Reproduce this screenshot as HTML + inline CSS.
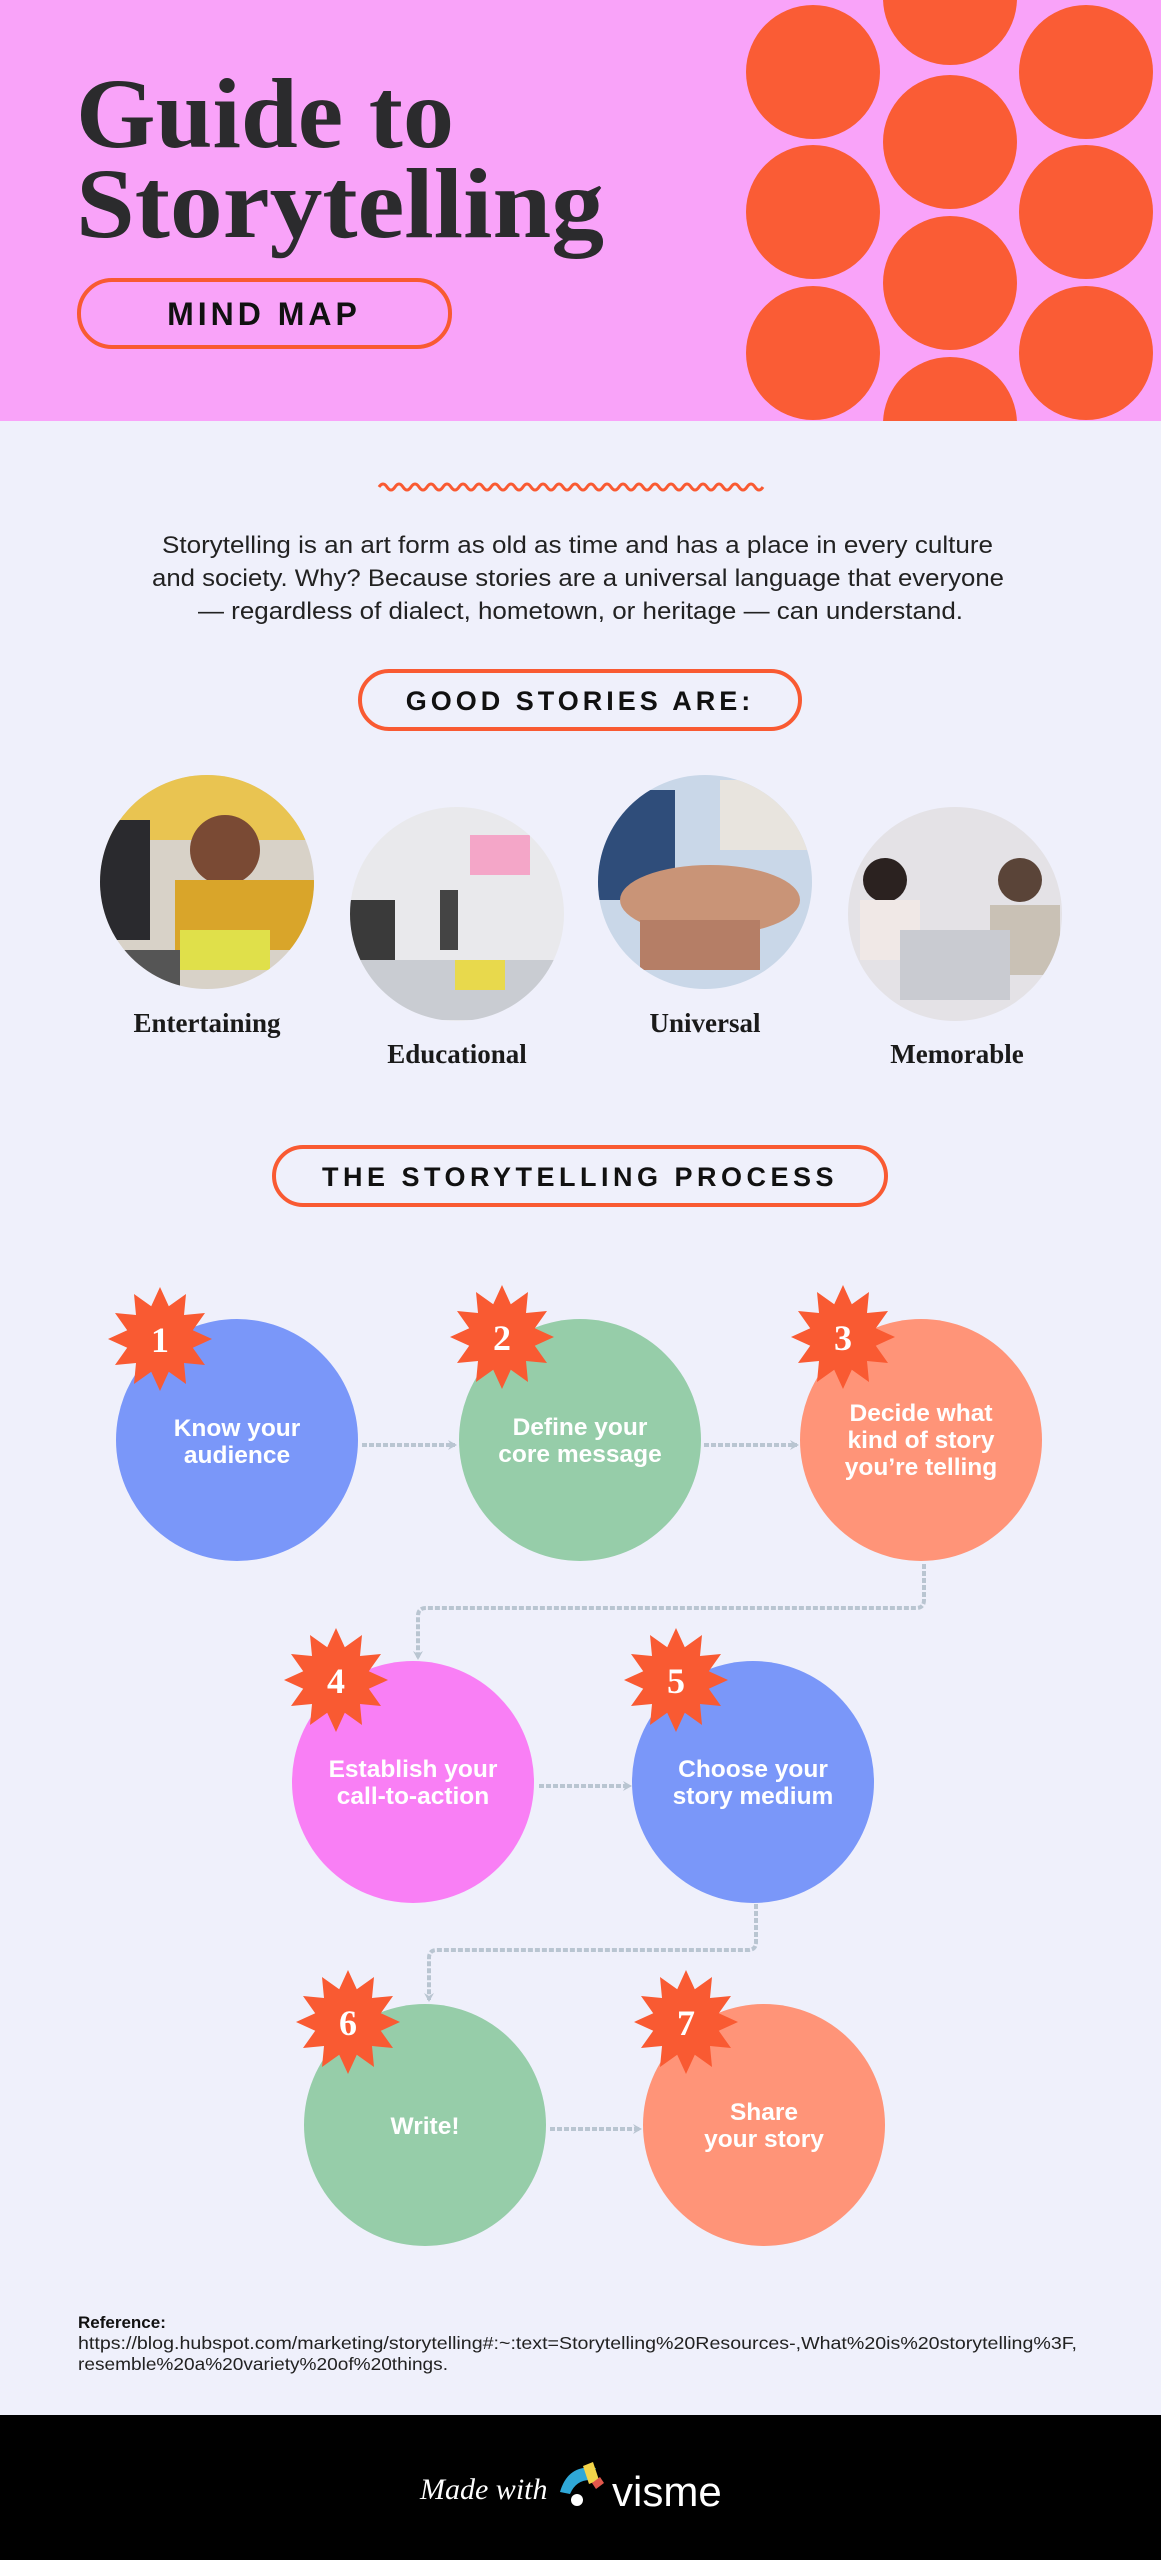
<!DOCTYPE html>
<html><head><meta charset="utf-8"><style>
html,body{margin:0;padding:0;background:#EFF0FB;}
svg{display:block;}
.sans{font-family:"Liberation Sans",sans-serif;}
.serif{font-family:"Liberation Serif",serif;}
</style></head><body>
<svg width="1161" height="2560" viewBox="0 0 1161 2560" xmlns="http://www.w3.org/2000/svg">
<defs>
<polygon id="star" points="52,0 32.8,8.8 45,26 24,24 26,45 8.8,32.8 0,52 -8.8,32.8 -26,45 -24,24 -45,26 -32.8,8.8 -52,0 -32.8,-8.8 -45,-26 -24,-24 -26,-45 -8.8,-32.8 0,-52 8.8,-32.8 26,-45 24,-24 45,-26 32.8,-8.8" fill="#F95A32"/>
<marker id="ah" markerWidth="10" markerHeight="10" refX="7" refY="5" orient="auto" markerUnits="userSpaceOnUse"><path d="M0,0 L9,5 L0,10 L3,5 Z" fill="#B9C5D1"/></marker>
<clipPath id="c1"><circle cx="207" cy="882" r="107"/></clipPath>
<clipPath id="c2"><circle cx="457" cy="914" r="107"/></clipPath>
<clipPath id="c3"><circle cx="705" cy="882" r="107"/></clipPath>
<clipPath id="c4"><circle cx="955" cy="914" r="107"/></clipPath>
</defs>
<rect width="1161" height="2560" fill="#EFF0FB"/>
<rect width="1161" height="421" fill="#F9A3F9"/>
<g fill="#FA5C35">
<circle cx="813" cy="72" r="67"/><circle cx="813" cy="212" r="67"/><circle cx="813" cy="353" r="67"/>
<circle cx="1086" cy="72" r="67"/><circle cx="1086" cy="212" r="67"/><circle cx="1086" cy="353" r="67"/>
<circle cx="950" cy="-2" r="67"/><circle cx="950" cy="142" r="67"/><circle cx="950" cy="283" r="67"/>
</g>
<clipPath id="hb"><rect width="1161" height="421"/></clipPath>
<circle cx="950" cy="424" r="67" fill="#FA5C35" clip-path="url(#hb)"/>
<text x="76" y="147" class="serif" font-weight="bold" font-size="100" fill="#2B2B2D" textLength="378" lengthAdjust="spacingAndGlyphs">Guide to</text>
<text x="76" y="237" class="serif" font-weight="bold" font-size="100" fill="#2B2B2D" textLength="528" lengthAdjust="spacingAndGlyphs">Storytelling</text>
<rect x="79" y="280" width="371" height="67" rx="33" fill="none" stroke="#F95A32" stroke-width="4"/>
<text x="264" y="325" text-anchor="middle" class="sans" font-weight="bold" font-size="32" letter-spacing="4" fill="#111">MIND MAP</text>
<path d="M379 487 q4 -6 8 0 t8 0 t8 0 t8 0 t8 0 t8 0 t8 0 t8 0 t8 0 t8 0 t8 0 t8 0 t8 0 t8 0 t8 0 t8 0 t8 0 t8 0 t8 0 t8 0 t8 0 t8 0 t8 0 t8 0 t8 0 t8 0 t8 0 t8 0 t8 0 t8 0 t8 0 t8 0 t8 0 t8 0 t8 0 t8 0 t8 0 t8 0 t8 0 t8 0 t8 0 t8 0 t8 0 t8 0 t8 0 t8 0 t8 0 t8 0" fill="none" stroke="#F95A32" stroke-width="3"/>
<g class="sans" font-size="24.5" fill="#222">
<text x="162" y="553" textLength="831" lengthAdjust="spacingAndGlyphs">Storytelling is an art form as old as time and has a place in every culture</text>
<text x="152" y="586" textLength="852" lengthAdjust="spacingAndGlyphs">and society. Why? Because stories are a universal language that everyone</text>
<text x="198" y="619" textLength="765" lengthAdjust="spacingAndGlyphs">— regardless of dialect, hometown, or heritage — can understand.</text>
</g>
<rect x="360" y="671" width="440" height="58" rx="29" fill="none" stroke="#F95A32" stroke-width="4"/>
<text x="580" y="710" text-anchor="middle" class="sans" font-weight="bold" font-size="27" letter-spacing="4" fill="#111">GOOD STORIES ARE:</text>
<g clip-path="url(#c1)">
<rect x="95" y="770" width="230" height="230" fill="#D8D2C8"/>
<rect x="95" y="770" width="230" height="70" fill="#E9C451"/>
<rect x="95" y="820" width="55" height="120" fill="#2A2A2E"/>
<circle cx="225" cy="850" r="35" fill="#7A4A34"/>
<rect x="175" y="880" width="140" height="70" fill="#D9A52A"/>
<rect x="180" y="930" width="90" height="40" fill="#E0E04A"/>
<rect x="110" y="950" width="70" height="40" fill="#555"/>
</g>
<g clip-path="url(#c2)">
<rect x="345" y="800" width="230" height="230" fill="#E9E9EC"/>
<rect x="470" y="835" width="60" height="40" fill="#F4A6C8"/>
<rect x="345" y="900" width="50" height="60" fill="#3A3A3A"/>
<rect x="360" y="960" width="200" height="60" fill="#C9CCD2"/>
<rect x="455" y="960" width="50" height="30" fill="#E8D94C"/>
<rect x="440" y="890" width="18" height="60" fill="#444"/>
</g>
<g clip-path="url(#c3)">
<rect x="595" y="770" width="230" height="230" fill="#C9D7E8"/>
<rect x="595" y="790" width="80" height="110" fill="#2F4D7A"/>
<ellipse cx="710" cy="900" rx="90" ry="35" fill="#C99477"/>
<rect x="720" y="780" width="90" height="70" fill="#E8E4DE"/>
<rect x="640" y="920" width="120" height="50" fill="#B57E66"/>
</g>
<g clip-path="url(#c4)">
<rect x="845" y="800" width="230" height="230" fill="#E4E2E6"/>
<circle cx="885" cy="880" r="22" fill="#2B2220"/>
<rect x="860" y="900" width="60" height="60" fill="#F0E8E6"/>
<circle cx="1020" cy="880" r="22" fill="#5A4438"/>
<rect x="990" y="905" width="70" height="70" fill="#C9C1B5"/>
<rect x="900" y="930" width="110" height="70" fill="#C9CBD1"/>
</g>
<g class="serif" font-weight="bold" font-size="27" fill="#1A1A1A" text-anchor="middle">
<text x="207" y="1032">Entertaining</text>
<text x="457" y="1063">Educational</text>
<text x="705" y="1032">Universal</text>
<text x="957" y="1063">Memorable</text>
</g>
<rect x="274" y="1147" width="612" height="58" rx="29" fill="none" stroke="#F95A32" stroke-width="4"/>
<text x="580" y="1186" text-anchor="middle" class="sans" font-weight="bold" font-size="27" letter-spacing="4.5" fill="#111">THE STORYTELLING PROCESS</text>
<g fill="none" stroke="#B9C5D1" stroke-width="4" stroke-dasharray="5 2" marker-end="url(#ah)">
<path d="M362 1445 H455"/>
<path d="M704 1445 H797"/>
<path d="M924 1564 V1600 q0 8 -8 8 H426 q-8 0 -8 8 V1658"/>
<path d="M539 1786 H630"/>
<path d="M756 1904 V1942 q0 8 -8 8 H437 q-8 0 -8 8 V2000"/>
<path d="M550 2129 H640"/>
</g>
<circle cx="237" cy="1440" r="121" fill="#7A97F9"/>
<circle cx="580" cy="1440" r="121" fill="#96CDA9"/>
<circle cx="921" cy="1440" r="121" fill="#FF9478"/>
<circle cx="413" cy="1782" r="121" fill="#F97FF5"/>
<circle cx="753" cy="1782" r="121" fill="#7A97F9"/>
<circle cx="425" cy="2125" r="121" fill="#96CDA9"/>
<circle cx="764" cy="2125" r="121" fill="#FF9478"/>
<g class="sans" font-weight="bold" font-size="24.5" fill="#fff" text-anchor="middle">
<text x="237" y="1436">Know your</text><text x="237" y="1463">audience</text>
<text x="580" y="1435">Define your</text><text x="580" y="1462">core message</text>
<text x="921" y="1421">Decide what</text><text x="921" y="1448">kind of story</text><text x="921" y="1475">you’re telling</text>
<text x="413" y="1777">Establish your</text><text x="413" y="1804">call-to-action</text>
<text x="753" y="1777">Choose your</text><text x="753" y="1804">story medium</text>
<text x="425" y="2134">Write!</text>
<text x="764" y="2120">Share</text><text x="764" y="2147">your story</text>
</g>
<use href="#star" x="160" y="1339"/>
<use href="#star" x="502" y="1337"/>
<use href="#star" x="843" y="1337"/>
<use href="#star" x="336" y="1680"/>
<use href="#star" x="676" y="1680"/>
<use href="#star" x="348" y="2022"/>
<use href="#star" x="686" y="2022"/>
<g class="serif" font-weight="bold" font-size="36" fill="#fff" text-anchor="middle">
<text x="160" y="1352">1</text><text x="502" y="1350">2</text><text x="843" y="1350">3</text>
<text x="336" y="1693">4</text><text x="676" y="1693">5</text>
<text x="348" y="2035">6</text><text x="686" y="2035">7</text>
</g>
<text x="78" y="2328" class="sans" font-weight="bold" font-size="17" fill="#111">Reference:</text>
<text x="78" y="2349" class="sans" font-size="17.5" fill="#222" textLength="999" lengthAdjust="spacingAndGlyphs">https://blog.hubspot.com/marketing/storytelling#:~:text=Storytelling%20Resources-,What%20is%20storytelling%3F,</text>
<text x="78" y="2370" class="sans" font-size="17.5" fill="#222" textLength="370" lengthAdjust="spacingAndGlyphs">resemble%20a%20variety%20of%20things.</text>
<rect x="0" y="2415" width="1161" height="145" fill="#000"/>
<text x="420" y="2499" class="serif" font-style="italic" font-size="30" fill="#fff">Made with</text>
<path d="M560 2492 q8 -28 36 -24 l-6 12 q-14 0 -20 14 z" fill="#2FA8D8"/>
<path d="M583 2466 l10 -4 l6 18 l-10 4 z" fill="#F2D44A"/>
<path d="M592 2483 l8 -6 l4 6 l-8 6 z" fill="#E2574C"/>
<circle cx="577" cy="2500" r="6" fill="#fff"/>
<text x="612" y="2506" class="sans" font-size="42" fill="#fff">visme</text>
</svg>
</body></html>
